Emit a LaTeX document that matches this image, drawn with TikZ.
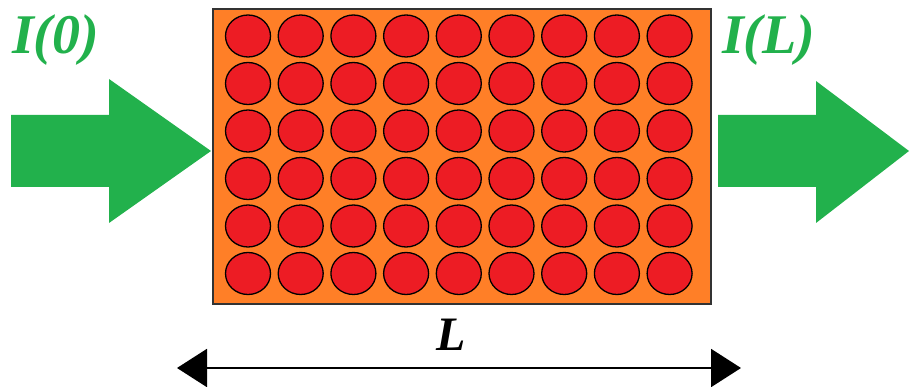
\documentclass[tikz,border=0pt]{standalone}
\usepackage{fontspec}
\setmainfont{Liberation Serif}
\usepackage{xcolor}
\usetikzlibrary{arrows.meta,positioning}

\definecolor{slaborange}{RGB}{255,127,39}
\definecolor{atomred}{RGB}{237,28,36}
\definecolor{beamgreen}{RGB}{34,177,76}

\begin{document}
\begin{tikzpicture}[
  x=1pt, y=-1pt,
  slab/.style={rectangle, draw=black!80, line width=2pt, fill=slaborange, minimum width=498pt, minimum height=295pt, inner sep=0pt},
  atom/.style={fill=atomred, draw=black, line width=1.3pt},
  beam/.style={fill=beamgreen},
  intensity/.style={font=\fontsize{56}{60}\selectfont\bfseries\itshape, text=beamgreen, inner sep=0pt},
  dim/.style={{Triangle[length=30pt,width=38pt]}-{Triangle[length=30pt,width=38pt]}, line width=2pt}
]
\useasboundingbox (0,0) rectangle (910,387);

% absorbing slab with its particles
\node[slab] (slab) at (462,156.5) {};
\foreach \c in {0,...,8}
  \foreach \r in {0,...,5}
    \draw[atom] ({248+52.7*\c},{36+47.5*\r}) ellipse (22.5pt and 21pt);

% incoming and outgoing beams
\fill[beam] (11,115) -- (109,115) -- (109,79) -- (211,151) -- (109,223) -- (109,187) -- (11,187) -- cycle;
\fill[beam] (718,115) -- (816,115) -- (816,81) -- (909,151) -- (816,223) -- (816,187) -- (718,187) -- cycle;
\node[intensity, anchor=base west] (inI) at (12,54) {I(0)};
\node[intensity, anchor=base west] (outI) at (722,54) {I(L)};

% thickness
\coordinate (dimL) at (177,368);
\coordinate (dimR) at (741,368);
\draw[dim] (dimL) -- (dimR);
\node[font=\fontsize{48}{52}\selectfont\bfseries\itshape, inner sep=0pt, anchor=base] (lenL) at (451,350) {L};
\end{tikzpicture}
\end{document}
